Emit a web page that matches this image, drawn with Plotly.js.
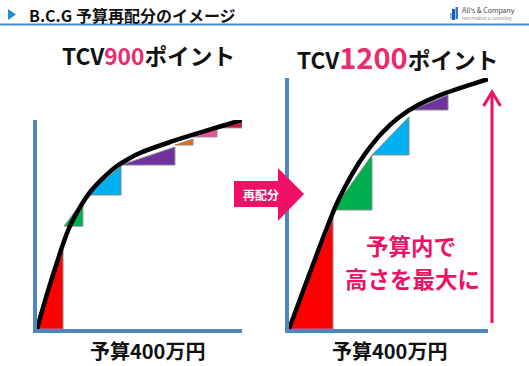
<!DOCTYPE html>
<html><head><meta charset="utf-8">
<script src="https://cdn.plot.ly/plotly-3.0.1.min.js"></script>
<style>html,body{margin:0;padding:0;background:#fff;}#chart{width:529px;height:366px;}</style>
</head><body><div id="chart"></div>
<script>
// ---- Data ----
// Left chart: TCV 900 points (budget 0-100, points 0-900)
const leftCurveX = [0, 4.9, 9.8, 12.7, 16.1, 21.0, 25.9, 32.2, 39.0, 45.4, 50.2, 67.3, 79.5, 89.3, 100];
const leftCurveY = [0, 151, 288, 366, 444, 525, 590, 650, 702, 736, 758, 812, 846, 872, 900];
const leftStepX0     = [0, 13.2, 23.9, 41.0, 67.3, 76.1, 87.8];
const leftStepX1     = [12.7, 22.4, 41.0, 67.3, 76.1, 87.8, 100];
const leftStepBottom = [0, 443, 577, 706, 792, 827, 866];
const leftStepTop    = [366, 551, 702, 784, 818, 861, 891];
const leftStepColors = ['#FF0000', '#00B050', '#00B0F0', '#7030A0', '#E46C0A', '#F0509A', '#D0143C'];

// Right chart: TCV 1200 points (budget 0-100, points 0-1200)
const rightCurveX = [0, 6.5, 13.1, 19.6, 24.6, 31.7, 38.2, 46.7, 54.8, 64.8, 74.9, 87.0, 100];
const rightCurveY = [0, 167, 335, 497, 612, 741, 837, 937, 1009, 1071, 1114, 1155, 1195];
const rightStepX0     = [0, 22.1, 41.7, 61.8];
const rightStepX1     = [22.1, 41.7, 60.3, 79.9];
const rightStepBottom = [0, 569, 832, 1047];
const rightStepTop    = [531, 832, 1014, 1119];
const rightStepColors = ['#FF0000', '#00B050', '#00B0F0', '#7030A0'];

const titleLeft = ['TCV', '900', 'ポイント'];
const titleRight = ['TCV', '1200', 'ポイント'];
const xLabel = '予算400万円';
const headerText = 'B.C.G 予算再配分のイメージ';
const arrowLabel = '再配分';
const noteLines = ['予算内で', '高さを最大に'];

// ---- Helpers ----
const W = 529, H = 366;
const fx = px => px / W;
const fy = py => 1 - py / H;
const P = (px, py) => fx(px) + ',' + fy(py);
const FONT = '"Noto Sans CJK JP", "Noto Sans", sans-serif';
const PINK = '#EE1166';

function stepTraces(x0s, x1s, bots, tops, colors, xa, ya) {
  return x0s.map((x0, i) => ({
    type: 'scatter', mode: 'lines', xaxis: xa, yaxis: ya,
    x: [x0, x1s[i], x1s[i], x0],
    y: [bots[i], bots[i], tops[i], bots[i]],
    fill: 'toself', fillcolor: colors[i],
    line: {color: '#8c8c8c', width: 1}, hoverinfo: 'skip'
  }));
}

const data = [
  ...stepTraces(leftStepX0, leftStepX1, leftStepBottom, leftStepTop, leftStepColors, 'x', 'y'),
  {type: 'scatter', mode: 'lines', x: leftCurveX, y: leftCurveY, xaxis: 'x', yaxis: 'y',
   line: {color: '#000', width: 4.5, shape: 'spline', smoothing: 1.2}, cliponaxis: false},
  ...stepTraces(rightStepX0, rightStepX1, rightStepBottom, rightStepTop, rightStepColors, 'x2', 'y2'),
  {type: 'scatter', mode: 'lines', x: rightCurveX, y: rightCurveY, xaxis: 'x2', yaxis: 'y2',
   line: {color: '#000', width: 4.5, shape: 'spline', smoothing: 1.2}, cliponaxis: false}
];

const axBase = {showgrid: false, zeroline: false, showticklabels: false, ticks: '',
  showline: true, linecolor: '#4F86C0', linewidth: 4, fixedrange: true};

const layout = {
  width: W, height: H, margin: {l: 0, r: 0, t: 0, b: 0},
  paper_bgcolor: '#fff', plot_bgcolor: 'rgba(0,0,0,0)', showlegend: false,
  xaxis: {...axBase, domain: [fx(37), fx(242)], range: [0, 100], anchor: 'y'},
  yaxis: {...axBase, domain: [fy(329), fy(120)], range: [0, 900], anchor: 'x'},
  xaxis2: {...axBase, domain: [fx(289), fx(488)], range: [0, 100], anchor: 'y2'},
  yaxis2: {...axBase, domain: [fy(329), fy(78)], range: [0, 1200], anchor: 'x2'},
  shapes: [
    // header line
    {type: 'line', xref: 'paper', yref: 'paper', x0: 0, x1: 1, y0: fy(24.5), y1: fy(24.5),
     line: {color: '#3F8FD2', width: 2}},
    // header triangle
    {type: 'path', xref: 'paper', yref: 'paper', path: 'M' + P(8, 9) + 'L' + P(16, 14.5) + 'L' + P(8, 20) + 'Z',
     fillcolor: '#1E90D6', line: {width: 0}},
    // logo icon
    {type: 'rect', xref: 'paper', yref: 'paper', x0: fx(452), x1: fx(455), y0: fy(20), y1: fy(9),
     fillcolor: '#1F5FA8', line: {width: 0}},
    {type: 'rect', xref: 'paper', yref: 'paper', x0: fx(455.5), x1: fx(458), y0: fy(19), y1: fy(7),
     fillcolor: '#2A7BC8', line: {width: 0}},
    {type: 'rect', xref: 'paper', yref: 'paper', x0: fx(450), x1: fx(452), y0: fy(19), y1: fy(13),
     fillcolor: '#8FB8E0', line: {width: 0}},
    // 再配分 arrow
    {type: 'path', xref: 'paper', yref: 'paper',
     path: 'M' + P(234, 181) + 'L' + P(278, 181) + 'L' + P(278, 168) + 'L' + P(304, 194) +
           'L' + P(278, 221) + 'L' + P(278, 207) + 'L' + P(234, 207) + 'Z',
     fillcolor: PINK, line: {width: 0}},
    // vertical pink arrow (right chart)
    {type: 'line', xref: 'paper', yref: 'paper', x0: fx(492), x1: fx(492), y0: fy(323), y1: fy(93),
     line: {color: PINK, width: 3}},
    {type: 'path', xref: 'paper', yref: 'paper', path: 'M' + P(483.5, 106) + 'L' + P(492, 92) + 'L' + P(500.5, 106),
     line: {color: PINK, width: 3}}
  ],
  annotations: [
    {xref: 'paper', yref: 'paper', x: fx(27), y: fy(15), xanchor: 'left', yanchor: 'middle',
     text: headerText, showarrow: false, font: {family: FONT, size: 16, color: '#111', weight: 'bold'}},
    {xref: 'paper', yref: 'paper', x: fx(460), y: fy(10.5), xanchor: 'left', yanchor: 'middle',
     text: "All's & Company", showarrow: false, font: {family: FONT, size: 7, color: '#444'}},
    {xref: 'paper', yref: 'paper', x: fx(460), y: fy(17.5), xanchor: 'left', yanchor: 'middle',
     text: 'Next Produce & Consulting', showarrow: false, font: {family: FONT, size: 4, color: '#888'}},
    {xref: 'paper', yref: 'paper', x: fx(148), y: fy(55), xanchor: 'center', yanchor: 'middle',
     text: titleLeft[0] + '<span style="color:#EA2C6C">' + titleLeft[1] + '</span>' + titleLeft[2],
     showarrow: false, font: {family: FONT, size: 22.7, color: '#111', weight: 'bold'}},
    {xref: 'paper', yref: 'paper', x: fx(397.5), y: fy(56), xanchor: 'center', yanchor: 'middle',
     text: titleRight[0] + '<span style="color:#EA2C6C;font-size:29px">' + titleRight[1] + '</span>' + titleRight[2],
     showarrow: false, font: {family: FONT, size: 22.7, color: '#111', weight: 'bold'}},
    {xref: 'paper', yref: 'paper', x: fx(261), y: fy(194), xanchor: 'center', yanchor: 'middle',
     text: arrowLabel, showarrow: false, font: {family: FONT, size: 12, color: '#fff', weight: 'bold'}},
    {xref: 'paper', yref: 'paper', x: fx(411), y: fy(245), xanchor: 'center', yanchor: 'middle',
     text: noteLines[0], showarrow: false, font: {family: FONT, size: 22.5, color: PINK, weight: 'bold'}},
    {xref: 'paper', yref: 'paper', x: fx(412), y: fy(277.5), xanchor: 'center', yanchor: 'middle',
     text: noteLines[1], showarrow: false, font: {family: FONT, size: 22.5, color: PINK, weight: 'bold'}},
    {xref: 'paper', yref: 'paper', x: fx(147.5), y: fy(350.5), xanchor: 'center', yanchor: 'middle',
     text: xLabel, showarrow: false, font: {family: FONT, size: 20, color: '#111', weight: 'bold'}},
    {xref: 'paper', yref: 'paper', x: fx(389), y: fy(350.5), xanchor: 'center', yanchor: 'middle',
     text: xLabel, showarrow: false, font: {family: FONT, size: 20, color: '#111', weight: 'bold'}}
  ]
};

Plotly.newPlot('chart', data, layout, {staticPlot: true, displayModeBar: false});
</script></body></html>
